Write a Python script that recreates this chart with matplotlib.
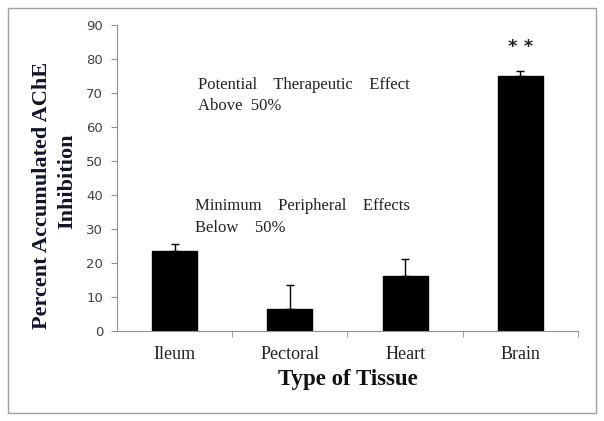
import matplotlib.pyplot as plt
import matplotlib.patches as mpatches
import numpy as np

tissues = ['Ileum', 'Pectoral', 'Heart', 'Brain']
inhibition = [23.4, 6.4, 16.2, 75.1]
error_up = [2.2, 7.1, 5.0, 1.4]
y_ticks = [0, 10, 20, 30, 40, 50, 60, 70, 80, 90]

W, H = 604, 421
fig = plt.figure(figsize=(W / 100, H / 100), dpi=100)

# Light gray frame round the whole chart
fig.patches.append(mpatches.Rectangle((8 / W, 8 / H), 588 / W, 405 / H,
                                      transform=fig.transFigure, fill=False,
                                      edgecolor='#a0a0a0', linewidth=1.0))

ax = fig.add_axes([117 / W, 1 - 331 / H, 461 / W, 306 / H])

x = np.arange(len(tissues))
ax.bar(x, inhibition, width=0.39, color='black', edgecolor='black', zorder=2)
ax.errorbar(x, inhibition, yerr=[np.zeros(len(x)), error_up], fmt='none',
            ecolor='black', elinewidth=1.0, capsize=2.6, capthick=1.0, zorder=3)

ax.set_xlim(-0.5, 3.5)
ax.set_ylim(0, 90)
ax.set_yticks(y_ticks)
ax.set_yticklabels([str(v) for v in y_ticks], fontsize=9.5, family='DejaVu Sans',
                   color='#404040')
ax.set_xticks(x)
ax.set_xticklabels(tissues, fontsize=13, family='Liberation Serif', color='#222222')
ax.tick_params(axis='x', which='major', length=0, pad=11)
ax.set_xticks([0.5, 1.5, 2.5, 3.5], minor=True)
ax.tick_params(axis='x', which='minor', length=4, color='#909090', direction='out')
ax.tick_params(axis='y', length=4, color='#909090', direction='out', pad=6)

for side in ['top', 'right']:
    ax.spines[side].set_visible(False)
for side in ['left', 'bottom']:
    ax.spines[side].set_color('#909090')

# axis titles
serif_bold = dict(family='Liberation Serif', fontweight='bold')
fig.text(347.5 / W, 1 - 380 / H, 'Type of Tissue', fontsize=16.5, ha='center',
         va='center', color='#111111', **serif_bold)
fig.text(42 / W, 1 - 195 / H, 'Percent Accumulated AChE', fontsize=16,
         rotation=90, ha='center', va='center', color='#141428', **serif_bold)
fig.text(67 / W, 1 - 181 / H, 'Inhibition', fontsize=16,
         rotation=90, ha='center', va='center', color='#141428', **serif_bold)

note = dict(fontsize=12, family='Liberation Serif', color='#222222', va='baseline')
ax.text(0.203, 71.2, 'Potential    Therapeutic    Effect', **note)
ax.text(0.203, 65.0, 'Above  50%', **note)
ax.text(0.177, 35.6, 'Minimum    Peripheral    Effects', **note)
ax.text(0.177, 29.1, 'Below    50%', **note)

ax.text(3, 82, '* *', fontsize=13, fontweight='bold', ha='center', va='baseline',
        color='#222222', family='DejaVu Sans')

fig.savefig('out.png', dpi=100)
